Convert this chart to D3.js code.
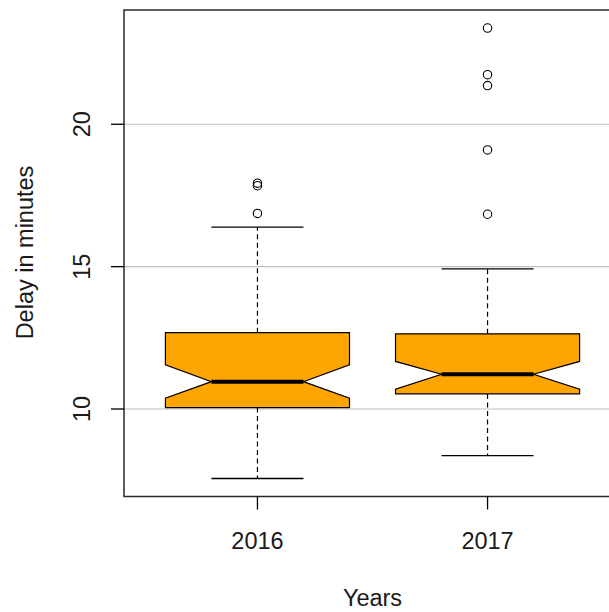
<!DOCTYPE html>
<html>
<head>
<meta charset="utf-8">
<script src="https://cdn.jsdelivr.net/npm/d3@7"></script>
<style>
  html, body { margin: 0; padding: 0; background: #fff; overflow: hidden; }
  svg { display: block; }
  text { font-family: "Liberation Sans", Arial, sans-serif; fill: #1a1a1a; }
</style>
</head>
<body>
<svg id="chart" width="609" height="612"></svg>
<script>
// Yearly delay summaries (minutes)
const years = ["2016", "2017"];
const lowerWhisker = [7.56, 8.36];
const q1 = [10.05, 10.53];
const median = [10.96, 11.22];
const q3 = [12.68, 12.64];
const upperWhisker = [16.39, 14.92];
const notchLow = [10.38, 10.70];
const notchHigh = [11.55, 11.67];
const outliers2016 = [16.87, 17.84, 17.93];
const outliers2017 = [16.84, 19.10, 21.36, 21.74, 23.38];
const outliers = [outliers2016, outliers2017];
const yTicks = [10, 15, 20];

const svg = d3.select("#chart");
const plot = { left: 124, top: 10, right: 621, bottom: 496.5 };

// value range padded by 4% on each side
const allVals = lowerWhisker.concat(upperWhisker, ...outliers);
const vMin = d3.min(allVals), vMax = d3.max(allVals);
const pad = (vMax - vMin) * 0.04;

const x = d3.scaleLinear()
  .domain([0.5 - 0.08, years.length + 0.5 + 0.08])
  .range([plot.left, plot.right]);
const y = d3.scaleLinear()
  .domain([vMin - pad, vMax + pad])
  .range([plot.bottom, plot.top]);

const boxHalf = (x(1.4) - x(1));   // half box width = 0.4 units

// horizontal reference lines
svg.append("g").selectAll("line").data(yTicks).join("line")
  .attr("x1", plot.left).attr("x2", plot.right)
  .attr("y1", d => y(d)).attr("y2", d => y(d))
  .attr("stroke", "#bebebe").attr("stroke-width", 1.2);

const groups = svg.append("g").selectAll("g").data(years).join("g");

// dashed whiskers
groups.append("line")
  .attr("x1", (d, i) => x(i + 1)).attr("x2", (d, i) => x(i + 1))
  .attr("y1", (d, i) => y(q3[i])).attr("y2", (d, i) => y(upperWhisker[i]))
  .attr("stroke", "#000").attr("stroke-width", 1.2).attr("stroke-dasharray", "5,3.5");
groups.append("line")
  .attr("x1", (d, i) => x(i + 1)).attr("x2", (d, i) => x(i + 1))
  .attr("y1", (d, i) => y(q1[i])).attr("y2", (d, i) => y(lowerWhisker[i]))
  .attr("stroke", "#000").attr("stroke-width", 1.2).attr("stroke-dasharray", "5,3.5");

// whisker staples (half the box width)
[upperWhisker, lowerWhisker].forEach(arr => {
  groups.append("line")
    .attr("x1", (d, i) => x(i + 1) - boxHalf / 2).attr("x2", (d, i) => x(i + 1) + boxHalf / 2)
    .attr("y1", (d, i) => y(arr[i])).attr("y2", (d, i) => y(arr[i]))
    .attr("stroke", "#000").attr("stroke-width", 1.3);
});

// notched boxes
groups.append("path")
  .attr("d", (d, i) => {
    const c = x(i + 1), l = c - boxHalf, r = c + boxHalf;
    const pts = [
      [l, y(q1[i])], [l, y(notchLow[i])], [c - boxHalf / 2, y(median[i])],
      [l, y(notchHigh[i])], [l, y(q3[i])], [r, y(q3[i])], [r, y(notchHigh[i])],
      [c + boxHalf / 2, y(median[i])], [r, y(notchLow[i])], [r, y(q1[i])]
    ];
    return d3.line()(pts) + "Z";
  })
  .attr("fill", "#FFA500").attr("stroke", "#000").attr("stroke-width", 1.2)
  .attr("stroke-linejoin", "miter");

// medians
groups.append("line")
  .attr("x1", (d, i) => x(i + 1) - boxHalf / 2).attr("x2", (d, i) => x(i + 1) + boxHalf / 2)
  .attr("y1", (d, i) => y(median[i])).attr("y2", (d, i) => y(median[i]))
  .attr("stroke", "#000").attr("stroke-width", 4);

// outlying points
groups.selectAll("circle").data((d, i) => outliers[i].map(v => ({ v, i }))).join("circle")
  .attr("cx", d => x(d.i + 1)).attr("cy", d => y(d.v)).attr("r", 4.2)
  .attr("fill", "none").attr("stroke", "#000").attr("stroke-width", 1.1);

// frame
svg.append("rect")
  .attr("x", plot.left).attr("y", plot.top)
  .attr("width", plot.right - plot.left).attr("height", plot.bottom - plot.top)
  .attr("fill", "none").attr("stroke", "#2a2a2a").attr("stroke-width", 1.5);

// y axis ticks and labels
const yAxis = svg.append("g");
yAxis.selectAll("line").data(yTicks).join("line")
  .attr("x1", plot.left - 13).attr("x2", plot.left)
  .attr("y1", d => y(d)).attr("y2", d => y(d))
  .attr("stroke", "#000").attr("stroke-width", 1.3);
yAxis.selectAll("text").data(yTicks).join("text")
  .attr("transform", d => `translate(90,${y(d)}) rotate(-90)`)
  .attr("text-anchor", "middle").attr("font-size", 23.5)
  .text(d => d);

// x axis ticks and labels
const xAxis = svg.append("g");
xAxis.selectAll("line").data(years).join("line")
  .attr("x1", (d, i) => x(i + 1)).attr("x2", (d, i) => x(i + 1))
  .attr("y1", plot.bottom).attr("y2", plot.bottom + 13)
  .attr("stroke", "#000").attr("stroke-width", 1.3);
xAxis.selectAll("text").data(years).join("text")
  .attr("x", (d, i) => x(i + 1)).attr("y", 549)
  .attr("text-anchor", "middle").attr("font-size", 23.5)
  .text(d => d);

// axis titles
svg.append("text")
  .attr("x", (plot.left + plot.right) / 2 - 0).attr("y", 606)
  .attr("text-anchor", "middle").attr("font-size", 23.5)
  .text("Years");
svg.append("text")
  .attr("transform", `translate(33,${252.5}) rotate(-90)`)
  .attr("text-anchor", "middle").attr("font-size", 23.5)
  .text("Delay in minutes");
</script>
</body>
</html>
